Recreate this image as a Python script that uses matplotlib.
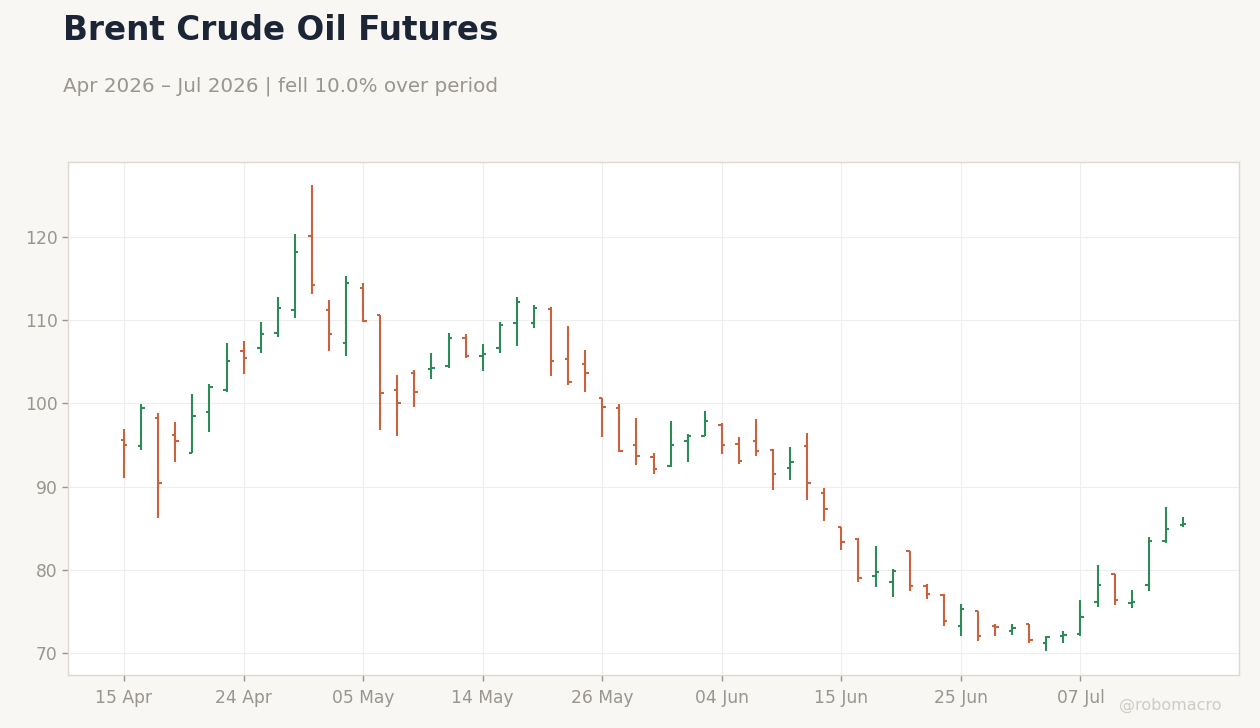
import matplotlib
matplotlib.use("Agg")
import matplotlib.pyplot as plt
import numpy as np
import pandas as pd

# trading days (US holidays skipped: Memorial Day, Juneteenth, 3 Jul)
holidays = ["2026-05-25", "2026-06-19", "2026-07-03"]
dates = pd.bdate_range("2026-04-15", "2026-07-15", freq="C", holidays=holidays)

opens = [95.6, 94.9, 98.3, 96.2, 94.0, 99.0, 101.6, 106.3, 106.6, 108.4,
         111.2, 120.1, 111.2, 107.2, 113.9, 110.6, 101.6, 103.7, 104.1, 104.5,
         107.8, 105.7, 106.7, 109.7, 109.6, 111.3, 105.3, 104.7, 100.6, 99.5,
         95.0, 93.5, 92.5, 95.5, 96.1, 97.4, 95.1, 95.5, 94.4, 92.2,
         94.9, 89.2, 85.1, 83.7, 79.3, 78.5, 82.3, 78.1, 77.0, 73.2,
         75.0, 73.3, 72.7, 73.45, 71.2, 72.0, 72.25, 76.1, 79.5, 76.0,
         78.15, 83.45, 85.4]
highs = [96.9, 99.9, 98.9, 97.8, 101.1, 102.3, 107.3, 107.5, 109.8, 112.8,
         120.4, 126.2, 112.4, 115.3, 114.5, 110.6, 103.4, 104.0, 106.1, 108.4,
         108.3, 107.1, 109.8, 112.8, 111.8, 111.6, 109.3, 106.4, 100.7, 99.9,
         98.2, 94.0, 97.9, 96.3, 99.1, 97.6, 95.9, 98.1, 94.5, 94.7,
         96.4, 89.8, 85.2, 83.8, 82.9, 80.1, 82.3, 78.3, 77.1, 75.9,
         75.1, 73.5, 73.5, 73.5, 72.0, 72.7, 76.4, 80.6, 79.5, 77.6,
         83.9, 87.6, 86.4]
lows = [91.0, 94.4, 86.2, 92.9, 94.0, 96.6, 101.4, 103.5, 106.0, 108.0,
        110.3, 113.1, 106.3, 105.7, 109.8, 96.8, 96.1, 99.6, 102.9, 104.2,
        105.4, 103.9, 106.1, 106.9, 109.0, 103.3, 102.2, 101.4, 96.0, 94.2,
        92.6, 91.5, 92.4, 92.9, 96.1, 93.9, 92.7, 93.7, 89.6, 90.8,
        88.4, 85.9, 82.4, 78.5, 77.9, 76.7, 77.4, 76.5, 73.2, 72.1,
        71.5, 72.0, 72.2, 71.2, 70.2, 71.2, 72.1, 75.5, 75.8, 75.4,
        77.4, 83.25, 85.1]
closes = [95.0, 99.5, 90.4, 95.5, 98.5, 102.0, 105.1, 105.4, 108.3, 111.4,
          118.2, 114.2, 108.3, 114.5, 109.9, 101.3, 100.1, 101.4, 104.3, 107.9,
          105.7, 105.9, 109.4, 112.2, 111.4, 105.1, 102.6, 103.6, 99.6, 94.3,
          93.7, 92.1, 95.0, 96.1, 97.9, 95.0, 93.1, 94.3, 91.5, 93.0,
          90.4, 87.3, 83.3, 79.0, 79.7, 79.9, 78.0, 77.1, 73.8, 75.3,
          72.1, 73.1, 73.0, 71.6, 71.9, 72.15, 74.3, 78.15, 76.4, 76.15,
          83.45, 84.9, 85.5]

UP = "#2e8b57"
DOWN = "#c9623f"
BG = "#f8f7f4"

x = np.arange(len(dates))
o = np.array(opens)
h = np.array(highs)
l = np.array(lows)
c = np.array(closes)
colors = [UP if cc >= oo else DOWN for oo, cc in zip(o, c)]

fig = plt.figure(figsize=(12.6, 7.28), dpi=100, facecolor=BG)
ax = fig.add_axes([68 / 1260, 53 / 728, (1239 - 68) / 1260, (675 - 162) / 728])
ax.set_facecolor("white")

tick_w = 0.2
ax.vlines(x, l, h, colors=colors, linewidth=1.5, zorder=3)
ax.hlines(o, x - tick_w, x, colors=colors, linewidth=1.5, zorder=3)
ax.hlines(c, x, x + tick_w, colors=colors, linewidth=1.5, zorder=3)

ax.set_xlim(-3.28, len(x) - 1 + 3.28)
ax.set_ylim(67.36, 129.0)

tick_idx = x[::7]
ax.set_xticks(tick_idx)
ax.set_xticklabels([dates[i].strftime("%d %b") for i in tick_idx])
ax.set_yticks([70, 80, 90, 100, 110, 120])

ax.grid(color="#eeeeee", linewidth=0.8, zorder=0)
ax.set_axisbelow(True)
for s in ax.spines.values():
    s.set_color("#ddd8d0")
    s.set_linewidth(1)
ax.tick_params(colors="#999590", labelsize=12.3, length=4, width=1)
ax.tick_params(axis="x", pad=6)

chg = (c[-1] / c[0] - 1) * 100
word = "fell" if chg < 0 else "rose"
fig.text(63 / 1260, 1 - 30 / 728, "Brent Crude Oil Futures", fontsize=23.5,
         fontweight="bold", color="#1b2535", va="center", ha="left")
fig.text(63 / 1260, 1 - 86 / 728,
         f"{dates[0].strftime('%b %Y')} \u2013 {dates[-1].strftime('%b %Y')} | {word} {abs(chg):.1f}% over period",
         fontsize=14.3, color="#99958f", va="center", ha="left")
fig.text(1222 / 1260, 1 - 705 / 728, "@robomacro", fontsize=11.5,
         color="#cfcbc5", ha="right", va="center")

fig.savefig("out.png", dpi=100, facecolor=BG)
